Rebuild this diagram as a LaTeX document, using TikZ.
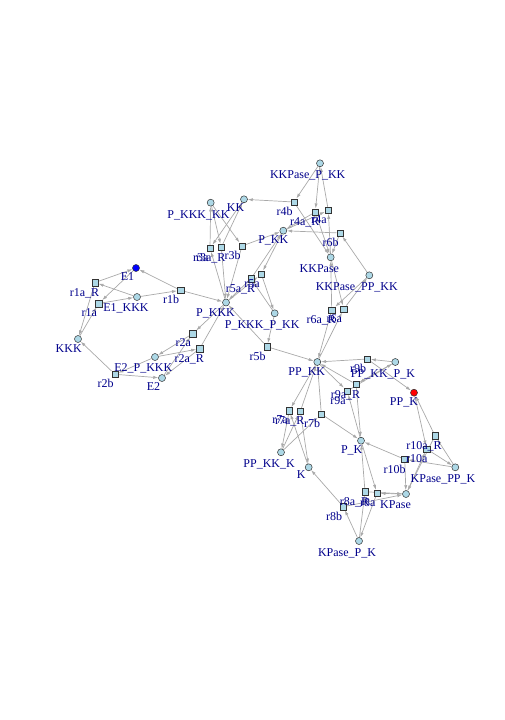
\documentclass[tikz,border=0pt]{standalone}
\usepackage{fontspec}
\setmainfont{Liberation Serif}
\usetikzlibrary{arrows.meta}
\usetikzlibrary{backgrounds}
\definecolor{nodeblue}{HTML}{ADD8E6}
\definecolor{labelblue}{HTML}{00008B}
\definecolor{edgegray}{HTML}{A9A9A9}
\tikzstyle{species}=[draw=black!80,fill=nodeblue,circle,minimum size=7pt,inner sep=0pt,line width=0.5pt]
\tikzstyle{reaction}=[draw=black!80,fill=nodeblue,rectangle,minimum size=6.5pt,inner sep=0pt,line width=0.5pt]
\tikzstyle{edge}=[draw=edgegray,line width=0.7pt,-{Latex[length=5pt,width=3.2pt]}]
\tikzstyle{lbl}=[text=labelblue,font=\fontsize{12}{14}\selectfont,inner sep=0pt]
\begin{document}
\begin{tikzpicture}[x=1pt,y=-1pt]
\useasboundingbox (0,0) rectangle (504,720);
% species
\node [species,fill=blue] (E1) at (136,268) {};
\node [species] (E1KKK) at (137,297) {};
\node [species] (KKK) at (78,339) {};
\node [species] (E2PKKK) at (155,357) {};
\node [species] (E2) at (162,378) {};
\node [species] (PKKK) at (226,302.5) {};
\node [species] (PKKKKK) at (210.7,202.7) {};
\node [species] (KK) at (244,199.3) {};
\node [species] (KKPasePKK) at (320,163.3) {};
\node [species] (PKK) at (283.3,230.7) {};
\node [species] (KKPase) at (330.7,257.3) {};
\node [species] (KKPasePPKK) at (369.3,275.3) {};
\node [species] (PKKKPKK) at (274.7,313.3) {};
\node [species] (PPKK) at (317.3,362) {};
\node [species] (PPKKPK) at (395.3,362) {};
\node [species,fill=red] (PPK) at (414,392.7) {};
\node [species] (PK) at (361,440.7) {};
\node [species] (PPKKK) at (281,452.3) {};
\node [species] (K) at (308.7,467.3) {};
\node [species] (KPasePPK) at (455.3,467.3) {};
\node [species] (KPase) at (406,494) {};
\node [species] (KPasePK) at (359,541) {};
% reactions
\node [reaction] (r1aR) at (95,282.5) {};
\node [reaction] (r1a) at (98.7,303.5) {};
\node [reaction] (r1b) at (180.5,290.3) {};
\node [reaction] (r2a) at (192.7,333.7) {};
\node [reaction] (r2aR) at (199.7,348.7) {};
\node [reaction] (r2b) at (115,374.3) {};
\node [reaction] (r3a) at (210,248.3) {};
\node [reaction] (r3aR) at (221.3,247.3) {};
\node [reaction] (r3b) at (242,246) {};
\node [reaction] (r4b) at (294,202) {};
\node [reaction] (r4aR) at (315.3,212) {};
\node [reaction] (r4a) at (328.3,210.3) {};
\node [reaction] (r5aR) at (251,278.7) {};
\node [reaction] (r5a) at (261.3,274) {};
\node [reaction] (r5b) at (267,346.7) {};
\node [reaction] (r6aR) at (331.7,310) {};
\node [reaction] (r6a) at (343.7,309) {};
\node [reaction] (r6b) at (340,233) {};
\node [reaction] (r7a) at (289.3,410.7) {};
\node [reaction] (r7aR) at (300.3,411.3) {};
\node [reaction] (r7b) at (321.3,414) {};
\node [reaction] (r8aR) at (365,491.7) {};
\node [reaction] (r8a) at (377,493.3) {};
\node [reaction] (r8b) at (343.3,506.7) {};
\node [reaction] (r9aR) at (356,384.3) {};
\node [reaction] (r9a) at (347.3,391) {};
\node [reaction] (r9b) at (367.3,359) {};
\node [reaction] (r10aR) at (435,435.7) {};
\node [reaction] (r10a) at (426.7,449) {};
\node [reaction] (r10b) at (404.7,459.3) {};
% edges
\begin{scope}[on background layer]
\foreach \a/\b in {E1/r1a,KKK/r1a,r1a/E1KKK,E1KKK/r1aR,r1aR/E1,r1aR/KKK,
    E1KKK/r1b,r1b/E1,r1b/PKKK,E2/r2a,PKKK/r2a,r2a/E2PKKK,
    E2PKKK/r2aR,r2aR/E2,r2aR/PKKK,E2PKKK/r2b,r2b/E2,r2b/KKK,
    KK/r3a,PKKK/r3a,r3a/PKKKKK,PKKKKK/r3aR,r3aR/KK,r3aR/PKKK,
    PKKKKK/r3b,r3b/PKK,r3b/PKKK,PKK/r4a,KKPase/r4a,r4a/KKPasePKK,
    KKPasePKK/r4aR,r4aR/PKK,r4aR/KKPase,KKPasePKK/r4b,r4b/KK,r4b/KKPase,
    PKK/r5a,PKKK/r5a,r5a/PKKKPKK,PKKKPKK/r5aR,r5aR/PKK,r5aR/PKKK,
    PKKKPKK/r5b,r5b/PPKK,r5b/PKKK,PPKK/r6a,KKPase/r6a,r6a/KKPasePPKK,
    KKPasePPKK/r6aR,r6aR/PPKK,r6aR/KKPase,KKPasePPKK/r6b,r6b/PKK,r6b/KKPase,
    K/r7a,PPKK/r7a,r7a/PPKKK,PPKKK/r7aR,r7aR/K,r7aR/PPKK,
    PPKKK/r7b,r7b/PK,r7b/PPKK,PK/r8a,KPase/r8a,r8a/KPasePK,
    KPasePK/r8aR,r8aR/PK,r8aR/KPase,KPasePK/r8b,r8b/K,r8b/KPase,
    PK/r9a,PPKK/r9a,r9a/PPKKPK,PPKKPK/r9aR,r9aR/PK,r9aR/PPKK,
    PPKKPK/r9b,r9b/PPK,r9b/PPKK,PPK/r10a,KPase/r10a,r10a/KPasePPK,
    KPasePPK/r10aR,r10aR/PPK,r10aR/KPase,KPasePPK/r10b,r10b/PK,r10b/KPase}
  \draw [edge] (\a) -- (\b);
\end{scope}
% labels
\foreach \n/\t/\d in {E1/E1/8.5,E1KKK/E1\_KKK/11,KKK/KKK/9.3,E2PKKK/E2\_P\_KKK/11.7,
    E2/E2/8.5,PKKK/P\_KKK/10.5,PKKKKK/P\_KKK\_KK/12.2,KK/KK/8.5,
    KKPasePKK/KKPase\_P\_KK/12.3,PKK/P\_KK/10,KKPase/KKPase/11.3,
    KKPasePPKK/KKPase\_PP\_KK/12.5,PKKKPKK/P\_KKK\_P\_KK/12.5,PPKK/PP\_KK/10.5,
    PPKKPK/PP\_KK\_P\_K/12.3,PPK/PP\_K/10,PK/P\_K/9.3,PPKKK/PP\_KK\_K/11.9,
    K/K/7.5,KPasePPK/KPase\_PP\_K/12.3,KPase/KPase/10.5,KPasePK/KPase\_P\_K/12,
    r1aR/r1a\_R/10.5,r1a/r1a/9.3,r1b/r1b/9.3,r2a/r2a/9.3,r2aR/r2a\_R/10.5,
    r2b/r2b/9.3,r3a/r3a/9.3,r3aR/r3a\_R/10.5,r3b/r3b/9.3,r4b/r4b/9.3,
    r4aR/r4a\_R/10.5,r4a/r4a/9.3,r5aR/r5a\_R/10.5,r5a/r5a/9.3,r5b/r5b/9.3,
    r6aR/r6a\_R/10.5,r6a/r6a/9.3,r6b/r6b/9.3,r7a/r7a/9.3,r7aR/r7a\_R/10.5,
    r7b/r7b/9.3,r8aR/r8a\_R/10.5,r8a/r8a/9.3,r8b/r8b/9.3,r9aR/r9a\_R/10.5,
    r9a/r9a/9.3,r9b/r9b/9.3,r10aR/r10a\_R/11,r10a/r10a/10,r10b/r10b/10}
  \node [lbl] at ([shift={(-\d,\d)}]\n) {\t};
\end{tikzpicture}
\end{document}
